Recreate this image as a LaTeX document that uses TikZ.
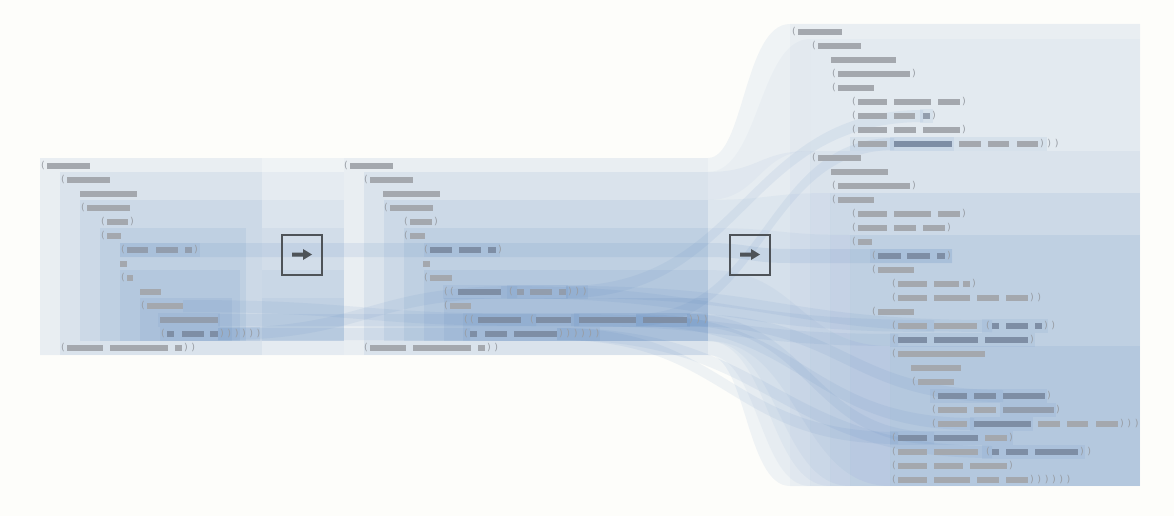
\documentclass[tikz,border=0pt]{standalone}
\usepackage{fontspec}
\newfontfamily\pfont{DejaVu Sans}
\usetikzlibrary{arrows.meta}
\definecolor{fb}{RGB}{70,120,185}
\definecolor{bgc}{RGB}{253,253,250}
\definecolor{barc}{RGB}{164,168,174}
\definecolor{barm}{RGB}{146,157,173}
\definecolor{bardk}{RGB}{126,142,165}
\definecolor{parc}{RGB}{152,157,164}
\definecolor{boxc}{RGB}{78,83,88}
\tikzset{
  env/.style={fill=fb, fill opacity=0.075},
  pnl/.style={fill=fb, fill opacity=0.035},
  blk/.style={fill=fb, fill opacity=0.09},
  flw/.style={fill=fb, fill opacity=0.05},
  rbn/.style={fill=fb, fill opacity=0.08},
  hl/.style={fill=fb, fill opacity=0.08},
  par/.style={text=parc, font=\pfont\fontsize{9.5}{10}\selectfont, inner sep=0pt},
  arrbox/.style={draw=boxc, line width=2pt, minimum width=40pt, minimum height=40pt, inner sep=0pt},
}
\newcount\nc
\newcommand\op[2]{\global\advance\nc by 1 \node[par] (t\the\nc) at (#1,#2) {(};}
\newcommand\cp[2]{\global\advance\nc by 1 \node[par] (t\the\nc) at (#1,#2) {)};}
\newcommand\cps[3]{\foreach \k in {1,...,#3}{\global\advance\nc by 1 \node[par] (t\the\nc) at ({#1+7.3*(\k-1)},#2) {)};}}
\newcommand\bx[3]{\fill[barc] (#1,#3-3.3) rectangle (#2,#3+3.3);}
\newcommand\bm[3]{\fill[barm] (#1,#3-3.3) rectangle (#2,#3+3.3);}
\newcommand\bd[3]{\fill[bardk] (#1,#3-3.3) rectangle (#2,#3+3.3);}
\newcommand\rib[7]{\fill[#7] (#1,#2) .. controls ({(#1+#4)/2},#2) and ({(#1+#4)/2},#5) .. (#4,#5) -- (#4,#6) .. controls ({(#1+#4)/2},#6) and ({(#1+#4)/2},#3) .. (#1,#3) -- cycle;}
\begin{document}
\begin{tikzpicture}[x=1pt,y=-1pt]
\useasboundingbox (0,0) rectangle (1174,516);
\fill[bgc] (0,0) rectangle (1174,516);
% envelope
\fill[env] (40,158) -- (708,158) .. controls (744,158) and (744,24) .. (790,24) -- (1140,24) -- (1140,486) -- (790,486) .. controls (746,486) and (746,355) .. (708,355) -- (40,355) -- cycle;
\fill[pnl] (40,158) rectangle (262,355);
\fill[pnl] (344,158) rectangle (708,355);
\fill[pnl] (790,24) rectangle (1140,486);
% panel 1 blocks
\fill[blk] (60,172) rectangle (262,355);
\fill[blk] (80,200) rectangle (262,341);
\fill[blk] (100,228) rectangle (246,341);
\fill[blk] (120,270) rectangle (240,341);
\fill[blk] (140,298) rectangle (232,341);
% flows 1-2
\fill[flw, fill opacity=0.06] (262,172) rectangle (344,355);
\fill[flw, fill opacity=0.06] (262,200) rectangle (344,341);
\fill[flw, fill opacity=0.06] (262,228) rectangle (344,341);
\fill[flw, fill opacity=0.06] (262,270) rectangle (344,341);
\fill[flw, fill opacity=0.06] (262,298) rectangle (344,341);
% panel 2 blocks
\fill[blk] (364,172) rectangle (708,355);
\fill[blk] (384,200) rectangle (708,341);
\fill[blk] (404,228) rectangle (708,341);
\fill[blk] (424,270) rectangle (708,341);
\fill[blk] (444,298) rectangle (708,341);
% flows 2-3
\rib{708}{172}{355}{810}{151}{486}{flw}
\rib{708}{172}{200}{810}{39}{151}{flw, fill opacity=0.035}
\rib{708}{200}{341}{830}{193}{486}{flw}
\rib{708}{228}{341}{850}{235}{486}{flw}
\rib{708}{270}{341}{890}{346}{486}{flw}
% panel 3 blocks
\fill[blk, fill opacity=0.03] (810,39) rectangle (1140,151);
\fill[blk] (810,151) rectangle (1140,486);
\fill[blk] (830,193) rectangle (1140,486);
\fill[blk] (850,235) rectangle (1140,486);
\fill[blk] (890,346) rectangle (1140,486);
% ribbons
\fill[rbn, fill opacity=0.1] (120,243) -- (708,243) .. controls (749,243) and (749,249) .. (790,249) -- (952,249) -- (952,263) -- (790,263) .. controls (749,263) and (749,257) .. (708,257) -- (120,257) -- cycle;
\rib{218}{328}{340}{517}{286}{298}{rbn}
\rib{218}{314}{326}{579}{314}{326}{rbn}
\rib{183}{300}{312}{536}{314}{326}{rbn}
\rib{218}{328}{340}{470}{328}{340}{rbn}
\rib{501}{286}{298}{934}{320}{332}{rbn}
\rib{566}{286}{298}{923}{110}{122}{rbn}
\rib{636}{314}{326}{894}{138}{150}{rbn}
\rib{636}{314}{326}{974}{418}{430}{rbn}
\rib{687}{314}{326}{1003}{390}{402}{rbn}
\rib{687}{314}{326}{934}{432}{444}{rbn}
\rib{557}{328}{340}{992}{446}{458}{rbn}
\rib{571}{314}{326}{898}{334}{346}{rbn}
\rib{557}{328}{340}{898}{432}{444}{rbn}
\rib{566}{286}{298}{992}{320}{332}{rbn}
% row highlights
\fill[hl] (120,243) rectangle (200,257);
\fill[hl] (160,327) rectangle (260,341);
\fill[hl] (158,313) rectangle (220,327);
\fill[hl] (443,285) rectangle (588,299);
\fill[hl] (507,285) rectangle (568,299);
\fill[hl] (463,313) rectangle (708,327);
\fill[hl] (574,313) rectangle (690,327);
\fill[hl] (463,327) rectangle (600,341);
\fill[hl] (424,243) rectangle (500,257);
\fill[hl] (920,109) rectangle (933,123);
\fill[hl] (850,137) rectangle (1047,151);
\fill[hl] (890,137) rectangle (954,151);
\fill[hl] (870,249) rectangle (952,263);
\fill[hl] (982,319) rectangle (1048,333);
\fill[hl] (890,333) rectangle (1035,347);
\fill[hl] (930,389) rectangle (1047,403);
\fill[hl] (1000,403) rectangle (1056,417);
\fill[hl] (970,417) rectangle (1033,431);
\fill[hl] (890,431) rectangle (1013,445);
\fill[hl] (982,445) rectangle (1085,459);
% ---- panel 1 text
\op{43}{166}\bx{47}{90}{166}
\op{63}{180}\bx{67}{110}{180}
\bx{80}{137}{194}
\op{83}{208}\bx{87}{130}{208}
\op{103}{222}\bx{107}{128}{222}\cp{132}{222}
\op{103}{236}\bx{107}{121}{236}
\op{123}{250}\bm{127}{148}{250}\bm{156}{178}{250}\bm{185}{192}{250}\cp{196}{250}
\bx{120}{127}{264}
\op{123}{278}\bx{127}{133}{278}
\bx{140}{161}{292}
\op{143}{306}\bx{147}{183}{306}
\bm{160}{218}{320}
\op{163}{334}\bd{167}{174}{334}\bd{182}{204}{334}\bd{210}{218}{334}\cps{222}{334}{6}
\op{63}{348}\bx{67}{103}{348}\bx{110}{168}{348}\bx{175}{182}{348}\cps{186}{348}{2}
% ---- panel 2 text
\op{346}{166}\bx{350}{393}{166}
\op{366}{180}\bx{370}{413}{180}
\bx{383}{440}{194}
\op{386}{208}\bx{390}{433}{208}
\op{406}{222}\bx{410}{432}{222}\cp{436}{222}
\op{406}{236}\bx{410}{425}{236}
\op{426}{250}\bd{430}{452}{250}\bd{459}{481}{250}\bd{488}{496}{250}\cp{500}{250}
\bx{423}{430}{264}
\op{426}{278}\bx{430}{452}{278}
\op{446}{292}\op{452}{292}\bd{458}{501}{292}\op{511}{292}\bm{517}{524}{292}\bm{530}{552}{292}\bm{559}{566}{292}\cps{570}{292}{3}
\op{446}{306}\bx{450}{471}{306}
\op{466}{320}\op{472}{320}\bd{478}{521}{320}\op{532}{320}\bd{536}{571}{320}\bd{579}{636}{320}\bd{643}{687}{320}\cps{691}{320}{3}
\op{466}{334}\bd{470}{477}{334}\bd{485}{507}{334}\bd{514}{557}{334}\cps{561}{334}{6}
\op{366}{348}\bx{370}{406}{348}\bx{413}{471}{348}\bx{478}{485}{348}\cps{489}{348}{2}
% ---- panel 3 text
\op{794}{32}\bx{798}{842}{32}
\op{814}{46}\bx{818}{861}{46}
\bx{831}{896}{60}
\op{834}{74}\bx{838}{910}{74}\cp{914}{74}
\op{834}{88}\bx{838}{874}{88}
\op{854}{102}\bx{858}{887}{102}\bx{894}{931}{102}\bx{938}{960}{102}\cp{964}{102}
\op{854}{116}\bx{858}{887}{116}\bx{894}{915}{116}\bm{923}{930}{116}\cp{934}{116}
\op{854}{130}\bx{858}{887}{130}\bx{894}{916}{130}\bx{923}{960}{130}\cp{964}{130}
\op{854}{144}\bx{858}{887}{144}\bd{894}{952}{144}\bx{959}{981}{144}\bx{988}{1009}{144}\bx{1017}{1038}{144}\cps{1042}{144}{3}
\op{814}{158}\bx{818}{861}{158}
\bx{831}{888}{172}
\op{834}{186}\bx{838}{910}{186}\cp{914}{186}
\op{834}{200}\bx{838}{874}{200}
\op{854}{214}\bx{858}{887}{214}\bx{894}{931}{214}\bx{938}{960}{214}\cp{964}{214}
\op{854}{228}\bx{858}{887}{228}\bx{894}{916}{228}\bx{923}{945}{228}\cp{949}{228}
\op{854}{242}\bx{858}{872}{242}
\op{874}{256}\bd{878}{901}{256}\bd{907}{930}{256}\bd{937}{945}{256}\cp{949}{256}
\op{874}{270}\bx{878}{914}{270}
\op{894}{284}\bx{898}{927}{284}\bx{934}{959}{284}\bx{963}{970}{284}\cp{974}{284}
\op{894}{298}\bx{898}{927}{298}\bx{934}{970}{298}\bx{977}{999}{298}\bx{1006}{1028}{298}\cps{1032}{298}{2}
\op{874}{312}\bx{878}{914}{312}
\op{894}{326}\bx{898}{927}{326}\bx{934}{977}{326}\op{988}{326}\bd{992}{999}{326}\bd{1006}{1028}{326}\bd{1035}{1042}{326}\cps{1046}{326}{2}
\op{894}{340}\bd{898}{927}{340}\bd{934}{978}{340}\bd{985}{1028}{340}\cp{1032}{340}
\op{894}{354}\bx{898}{985}{354}
\bx{911}{961}{368}
\op{914}{382}\bx{918}{954}{382}
\op{934}{396}\bd{938}{967}{396}\bd{974}{996}{396}\bd{1003}{1045}{396}\cp{1049}{396}
\op{934}{410}\bx{938}{967}{410}\bx{974}{996}{410}\bm{1003}{1054}{410}\cp{1058}{410}
\op{934}{424}\bx{938}{967}{424}\bd{974}{1031}{424}\bx{1038}{1060}{424}\bx{1067}{1088}{424}\bx{1096}{1118}{424}\cps{1122}{424}{3}
\op{894}{438}\bd{898}{927}{438}\bd{934}{978}{438}\bx{985}{1007}{438}\cp{1011}{438}
\op{894}{452}\bx{898}{927}{452}\bx{934}{978}{452}\op{988}{452}\bd{992}{999}{452}\bd{1006}{1028}{452}\bd{1035}{1078}{452}\cps{1082}{452}{2}
\op{894}{466}\bx{898}{927}{466}\bx{934}{963}{466}\bx{970}{1007}{466}\cp{1011}{466}
\op{894}{480}\bx{898}{927}{480}\bx{934}{970}{480}\bx{977}{999}{480}\bx{1006}{1028}{480}\cps{1032}{480}{6}
% ---- arrow boxes
\node[arrbox] (a1) at (302,254.5) {};
\node[arrbox] (a2) at (750,254.5) {};
\foreach \b in {a1,a2}{
  \fill[boxc, shift={(\b.center)}] (-10,-2) -- (1,-2) -- (1,-5.5) -- (10,0) -- (1,5.5) -- (1,2) -- (-10,2) -- cycle;
}
\end{tikzpicture}
\end{document}
